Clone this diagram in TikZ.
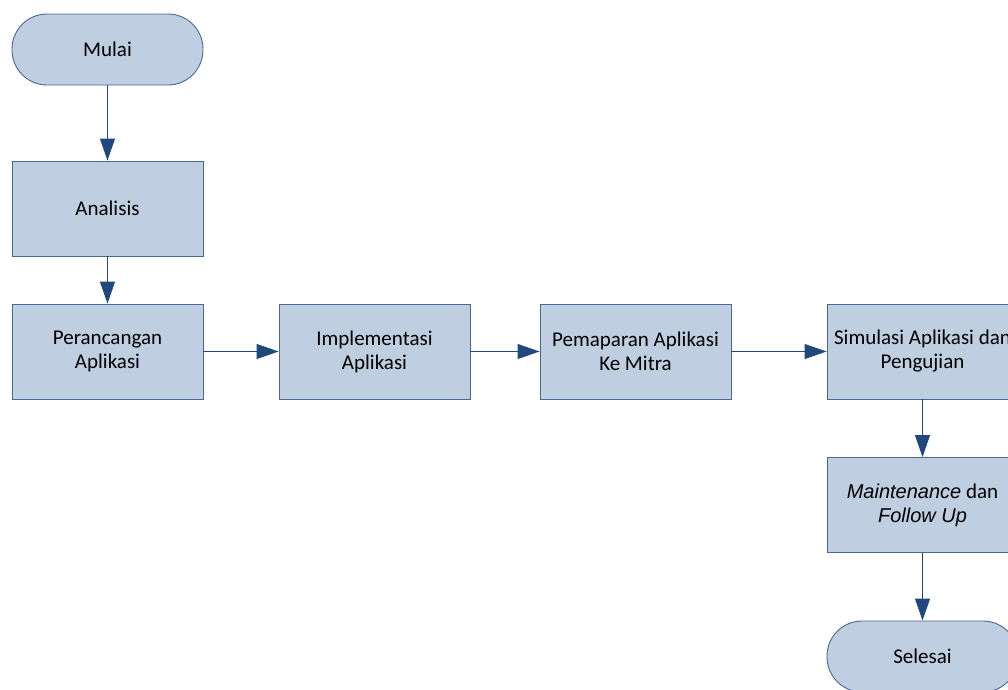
\documentclass[tikz,border=0pt]{standalone}
\usepackage{fontspec}
\setmainfont{Carlito}
\newfontfamily\arialf{Liberation Sans}
\usetikzlibrary{arrows.meta}
\definecolor{boxfill}{RGB}{192,206,226}
\definecolor{boxline}{RGB}{74,104,148}
\definecolor{arrowc}{RGB}{31,73,125}
\begin{document}
\begin{tikzpicture}[x=1pt,y=-1pt,
  procbox/.style={draw=boxline, fill=boxfill, line width=0.9pt, minimum width=191pt, minimum height=95pt,
    inner sep=0pt, align=center, font=\fontsize{21}{24}\selectfont},
  termbox/.style={procbox, minimum height=71pt, rounded corners=35pt},
  flow/.style={draw=arrowc, line width=1pt, -{Triangle[length=22pt,width=15pt]}}]
\useasboundingbox (0,0) rectangle (1008,689);
\clip (0,0) rectangle (1008,689);
\node[termbox] (mulai) at (107.5,49.5) {Mulai};
\node[procbox] (analisis) at (107.5,208.5) {Analisis};
\node[procbox] (perancangan) at (107.5,351.5) {Perancangan\\Aplikasi};
\node[procbox] (implementasi) at (374.5,351.5) {Implementasi\\Aplikasi};
\node[procbox] (pemaparan) at (635.5,351.5) {Pemaparan Aplikasi\\Ke Mitra};
\node[procbox] (simulasi) at (922.5,351.5) {Simulasi Aplikasi dan\\Pengujian};
\node[procbox] (maint) at (922.5,505) {{\arialf\fontsize{20}{24}\selectfont\itshape Maintenance} dan\\{\arialf\fontsize{20}{24}\selectfont\itshape Follow Up}};
\node[termbox] (selesai) at (922.5,656.5) {Selesai};
\draw[flow] (mulai) -- (analisis);
\draw[flow] (analisis) -- (perancangan);
\draw[flow] (perancangan) -- (implementasi);
\draw[flow] (implementasi) -- (pemaparan);
\draw[flow] (pemaparan) -- (simulasi);
\draw[flow] (simulasi) -- (maint);
\draw[flow] (maint) -- (selesai);
\end{tikzpicture}
\end{document}
